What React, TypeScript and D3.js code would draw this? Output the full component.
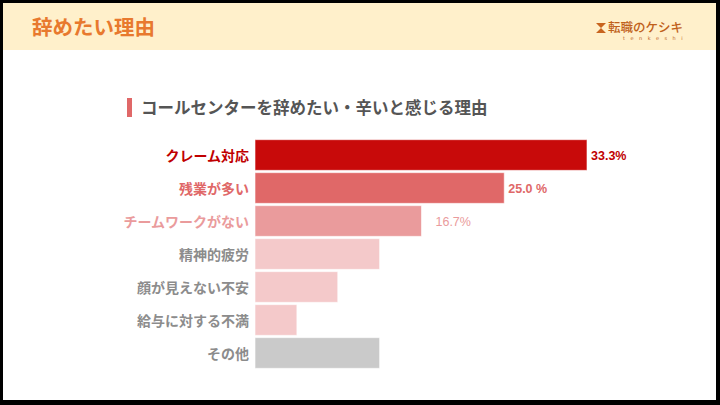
import { useEffect } from "react";
import * as d3 from "d3";

// ── Data ────────────────────────────────────────────────────────────────
const CATEGORIES = [
  "クレーム対応",
  "残業が多い",
  "チームワークがない",
  "精神的疲労",
  "顔が見えない不安",
  "給与に対する不満",
  "その他",
];
const VALUES = [33.3, 25.0, 16.7, 12.5, 8.3, 4.2, 12.5];
const VALUE_LABELS = ["33.3%", "25.0 %", "16.7%", null, null, null, null];

// ── Styles ──────────────────────────────────────────────────────────────
const W = 720;
const H = 405;
const BAR_COLORS = ["#C80A0A", "#E06868", "#EA9B9C", "#F4C9CA", "#F4C9CA", "#F4C9CA", "#CACACA"];
const LABEL_COLORS = ["#C00000", "#E06868", "#EA9B9C", "#8C8C8C", "#8C8C8C", "#8C8C8C", "#8C8C8C"];
const VALUE_DX = [4, 4, 14, 4, 4, 4, 4];
const VALUE_WEIGHT = ["700", "700", "400", "400", "400", "400", "400"];
const FONT = "'Noto Sans CJK JP', 'Noto Sans', sans-serif";
const NARROW = "'Liberation Sans Narrow', 'Liberation Sans', Arial, sans-serif";

const PLOT = { left: 255, top: 139, bottom: 369 };

export default function App() {
  useEffect(() => {
    document.body.style.margin = "0";
  }, []);

  const x = d3.scaleLinear().domain([0, 33.3]).range([0, 332]);
  const y = d3
    .scaleBand<string>()
    .domain(CATEGORIES)
    .range([PLOT.top, PLOT.bottom])
    .paddingInner(0.07)
    .paddingOuter(0.02);

  return (
    <svg width={W} height={H} style={{ display: "block" }}>
      {/* frame */}
      <rect x={0} y={0} width={W} height={H} fill="#000" />
      <rect x={3} y={3} width={W - 7} height={H - 8} fill="#fff" />
      {/* header band */}
      <rect x={3} y={3} width={W - 7} height={47} fill="#FFF0CB" />
      <text
        x={32}
        y={35}
        fontFamily={FONT}
        fontSize={20.5}
        fontWeight={700}
        fill="#E8792E"
      >
        辞めたい理由
      </text>

      {/* logo */}
      <g>
        <rect x={596} y={23} width={10} height={10} fill="#C8641E" />
        <path d="M596,23 L601,28 L596,33 Z M606,23 L601,28 L606,33 Z" fill="#FFF0CB" />
        <text x={608} y={31.5} fontFamily={FONT} fontSize={12.5} fontWeight={500} fill="#C0601A">
          転職のケシキ
        </text>
        <text
          x={623}
          y={39.5}
          fontFamily="'DejaVu Sans', sans-serif"
          fontSize={5}
          letterSpacing={5.5}
          fill="#C0601A"
        >
          tenkeshi
        </text>
      </g>

      {/* subtitle */}
      <rect x={127} y={98} width={5} height={19} fill="#E06868" />
      <text x={141} y={114} fontFamily={FONT} fontSize={16.5} fontWeight={700} fill="#555">
        コールセンターを辞めたい・辛いと感じる理由
      </text>

      {/* bars */}
      {CATEGORIES.map((c, i) => {
        const by = y(c) ?? 0;
        const bw = x(VALUES[i]);
        const cy = by + y.bandwidth() / 2;
        const vl = VALUE_LABELS[i];
        return (
          <g key={c}>
            <rect
              x={PLOT.left}
              y={by}
              width={bw}
              height={y.bandwidth()}
              fill={BAR_COLORS[i]}
              stroke="#fff"
              strokeOpacity={0.6}
              strokeWidth={1}
            />
            <text
              x={PLOT.left - 6}
              y={cy}
              textAnchor="end"
              dominantBaseline="central"
              fontFamily={FONT}
              fontSize={14}
              fontWeight={700}
              fill={LABEL_COLORS[i]}
            >
              {c}
            </text>
            {vl && (
              <text
                x={PLOT.left + bw + VALUE_DX[i]}
                y={cy + 1}
                dominantBaseline="central"
                fontFamily={NARROW}
                fontSize={12.5}
                fontWeight={VALUE_WEIGHT[i]}
                fill={LABEL_COLORS[i]}
              >
                {vl}
              </text>
            )}
          </g>
        );
      })}
    </svg>
  );
}
